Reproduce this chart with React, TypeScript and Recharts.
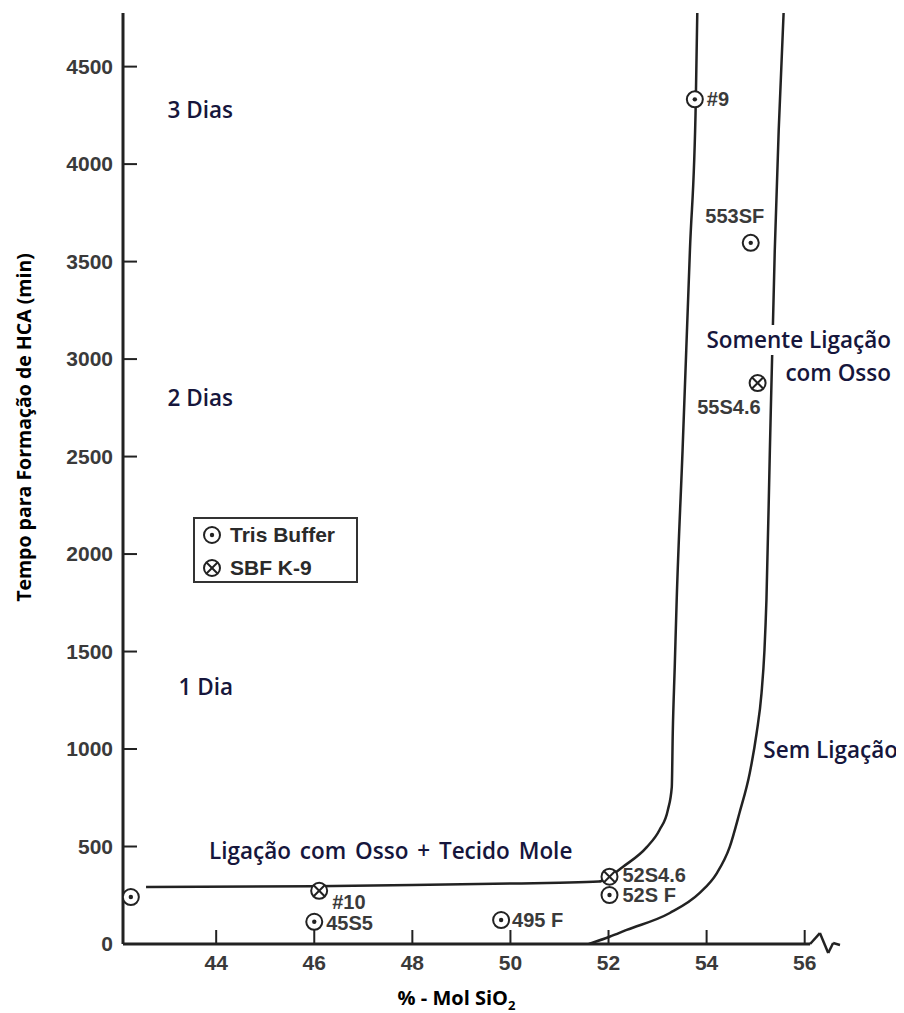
import React from "react";
import { ComposedChart, Line, Scatter, XAxis, YAxis, ReferenceLine, Label } from "recharts";

// ---- data ----
const xTicks = [44, 46, 48, 50, 52, 54, 56];
const yTicks = [0, 500, 1000, 1500, 2000, 2500, 3000, 3500, 4000, 4500];

const trisBuffer = [
  { name: "", x: 42.26, y: 241 },
  { name: "45S5", x: 46.0, y: 114 },
  { name: "495 F", x: 49.81, y: 123 },
  { name: "52S F", x: 52.02, y: 251 },
  { name: "#9", x: 53.76, y: 4332 },
  { name: "553SF", x: 54.9, y: 3596 },
];

const sbfK9 = [
  { name: "#10", x: 46.1, y: 273 },
  { name: "52S4.6", x: 52.02, y: 345 },
  { name: "55S4.6", x: 55.04, y: 2877 },
];

// boundary: bone + soft tissue bonding / bone bonding only
const boundaryA = [
  { x: 42.57, y: 292 },
  { x: 46, y: 296 },
  { x: 48, y: 302 },
  { x: 50, y: 310 },
  { x: 51, y: 314 },
  { x: 51.8, y: 320 },
  { x: 52.02, y: 345 },
  { x: 52.29, y: 395 },
  { x: 52.78, y: 497 },
  { x: 53.04, y: 585 },
  { x: 53.21, y: 687 },
  { x: 53.29, y: 805 },
  { x: 53.31, y: 1082 },
  { x: 53.35, y: 1420 },
  { x: 53.39, y: 1764 },
  { x: 53.51, y: 2533 },
  { x: 53.66, y: 3559 },
  { x: 53.78, y: 4328 },
  { x: 53.81, y: 4775 },
];

// boundary: bone bonding only / no bonding
const boundaryB = [
  { x: 51.6, y: 0 },
  { x: 52.02, y: 37 },
  { x: 52.37, y: 72 },
  { x: 53.25, y: 159 },
  { x: 53.86, y: 262 },
  { x: 54.21, y: 364 },
  { x: 54.47, y: 497 },
  { x: 54.67, y: 672 },
  { x: 54.88, y: 877 },
  { x: 55.02, y: 1082 },
  { x: 55.12, y: 1287 },
  { x: 55.18, y: 1508 },
  { x: 55.22, y: 1764 },
  { x: 55.29, y: 2533 },
  { x: 55.39, y: 3559 },
  { x: 55.47, y: 4174 },
  { x: 55.57, y: 4775 },
];

// broken x axis end
const axisBreak = [
  { x: 56.11, y: 0 },
  { x: 56.31, y: 56 },
  { x: 56.48, y: -46 },
  { x: 56.58, y: 5 },
  { x: 56.72, y: -5 },
];

// ---- styles ----
const INK = "#222";
const TICK_FONT = "'Liberation Sans', Arial, sans-serif";
const TICK_COLOR = "#3a3a3a";
const NOTE_FONT = "'Open Sans', sans-serif";
const NOTE_COLOR = "#16163c";

const labelPos: Record<string, { dx: number; dy: number; anchor: string }> = {
  "45S5": { dx: 12, dy: 1, anchor: "start" },
  "495 F": { dx: 11, dy: 0, anchor: "start" },
  "52S F": { dx: 13, dy: 0, anchor: "start" },
  "52S4.6": { dx: 13, dy: -2, anchor: "start" },
  "#9": { dx: 12, dy: 0, anchor: "start" },
  "553SF": { dx: -16, dy: -27, anchor: "middle" },
  "#10": { dx: 13, dy: 11, anchor: "start" },
  "55S4.6": { dx: 3, dy: 24, anchor: "end" },
};

const PointLabel = ({ cx, cy, name }: any) => {
  const p = labelPos[name];
  if (!p) return null;
  return (
    <text
      x={cx + p.dx}
      y={cy + p.dy}
      dy="0.35em"
      textAnchor={p.anchor}
      fontFamily={TICK_FONT}
      fontWeight={700}
      fontSize={20}
      fill={TICK_COLOR}
    >
      {name}
    </text>
  );
};

const DotCircle = (props: any) => {
  const { cx, cy, payload } = props;
  return (
    <g>
      <circle cx={cx} cy={cy} r={8} fill="#fff" stroke={INK} strokeWidth={2} />
      <circle cx={cx} cy={cy} r={2.2} fill={INK} />
      <PointLabel cx={cx} cy={cy} name={payload.name} />
    </g>
  );
};

const CrossCircle = (props: any) => {
  const { cx, cy, payload } = props;
  const d = 5.5;
  return (
    <g>
      <circle cx={cx} cy={cy} r={8} fill="#fff" stroke={INK} strokeWidth={2} />
      <line x1={cx - d} y1={cy - d} x2={cx + d} y2={cy + d} stroke={INK} strokeWidth={2} />
      <line x1={cx - d} y1={cy + d} x2={cx + d} y2={cy - d} stroke={INK} strokeWidth={2} />
      <PointLabel cx={cx} cy={cy} name={payload.name} />
    </g>
  );
};

const YTick = (props: any) => {
  const { x, y, payload } = props;
  return (
    <g>
      <line x1={x + 10} y1={y} x2={x + 24} y2={y} stroke={INK} strokeWidth={2} />
      <text x={x} y={y} dy="0.35em" textAnchor="end" fontFamily={TICK_FONT} fontWeight={700} fontSize={21} fill={TICK_COLOR}>
        {payload.value}
      </text>
    </g>
  );
};

const XTick = (props: any) => {
  const { x, y, payload } = props;
  return (
    <g>
      <line x1={x} y1={y - 11} x2={x} y2={y - 25} stroke={INK} strokeWidth={2} />
      <text x={x} y={y} dy="0.71em" textAnchor="middle" fontFamily={TICK_FONT} fontWeight={700} fontSize={21} fill={TICK_COLOR}>
        {payload.value}
      </text>
    </g>
  );
};

const YTitle = (props: any) => {
  const vb = props.viewBox;
  const cx = vb.x + 11;
  const cy = vb.y + vb.height / 2 - 51;
  return (
    <text
      x={cx}
      y={cy}
      transform={`rotate(-90, ${cx}, ${cy})`}
      textAnchor="middle"
      dy="0.35em"
      fontFamily={NOTE_FONT}
      fontWeight={700}
      fontSize={19.5}
      fill="#000"
    >
      Tempo para Formação de HCA (min)
    </text>
  );
};

const XTitle = (props: any) => {
  const vb = props.viewBox;
  const cx = vb.x + vb.width / 2 - 25;
  const cy = vb.y + 61;
  return (
    <text x={cx} y={cy} textAnchor="middle" fontFamily={NOTE_FONT} fontWeight={700} fontSize={20} fill="#000">
      % - Mol SiO
      <tspan fontSize={13} dy={5}>2</tspan>
    </text>
  );
};

const note: React.CSSProperties = {
  position: "absolute",
  fontFamily: NOTE_FONT,
  fontWeight: 600,
  fontSize: 22.5,
  color: NOTE_COLOR,
  whiteSpace: "nowrap",
  lineHeight: "30px",
  transform: "translateY(-50%)",
};

const LegendBox = () => (
  <div
    style={{
      position: "absolute",
      left: 185,
      top: 509,
      width: 161,
      height: 62,
      border: "2px solid #333",
      fontFamily: TICK_FONT,
      fontWeight: 700,
      fontSize: 21,
      color: "#2a2a2a",
      background: "#fff",
    }}
  >
    {[
      { label: "Tris Buffer", Shape: DotCircle },
      { label: "SBF K-9", Shape: CrossCircle },
    ].map((it, i) => (
      <div key={it.label} style={{ display: "flex", alignItems: "center", height: 33, marginTop: i === 0 ? -1 : 0 }}>
        <svg width={30} height={22} style={{ marginLeft: 4 }}>
          <it.Shape cx={13} cy={11} payload={{ name: "" }} />
        </svg>
        <span style={{ marginLeft: 1 }}>{it.label}</span>
      </div>
    ))}
  </div>
);

export default function App() {
  return (
    <div style={{ position: "relative", width: 896, height: 1005, background: "#fff" }}>
      <ComposedChart width={896} height={1005} margin={{ top: 5, right: 64, bottom: 29, left: 5 }}>
        <XAxis
          type="number"
          dataKey="x"
          domain={[42.1, 56.72]}
          ticks={xTicks}
          axisLine={false}
          tickLine={false}
          tickSize={0}
          tickMargin={11}
          tick={<XTick />}
          height={40}
          allowDataOverflow
        >
          <Label content={<XTitle />} />
        </XAxis>
        <YAxis
          type="number"
          dataKey="y"
          domain={[0, 4775]}
          ticks={yTicks}
          axisLine={{ stroke: INK, strokeWidth: 3 }}
          tickLine={false}
          tickSize={0}
          tickMargin={10}
          tick={<YTick />}
          width={110}
          allowDataOverflow
        >
          <Label content={<YTitle />} />
        </YAxis>

        <ReferenceLine segment={[{ x: 42.1, y: 0 }, { x: 56.11, y: 0 }]} stroke={INK} strokeWidth={3} ifOverflow="visible" />
        {axisBreak.slice(1).map((p, i) => (
          <ReferenceLine
            key={i}
            segment={[axisBreak[i], p]}
            stroke={INK}
            strokeWidth={2.5}
            ifOverflow="visible"
          />
        ))}

        <Line data={boundaryA} dataKey="y" type="monotone" stroke={INK} strokeWidth={2.5} dot={false} isAnimationActive={false} />
        <Line data={boundaryB} dataKey="y" type="monotone" stroke={INK} strokeWidth={2.5} dot={false} isAnimationActive={false} />

        <Scatter data={trisBuffer} shape={<DotCircle />} isAnimationActive={false} />
        <Scatter data={sbfK9} shape={<CrossCircle />} isAnimationActive={false} />
      </ComposedChart>

      <div style={{ ...note, right: 671, top: 102 }}>3 Dias</div>
      <div style={{ ...note, right: 671, top: 390 }}>2 Dias</div>
      <div style={{ ...note, right: 671, top: 679 }}>1 Dia</div>
      <div style={{ ...note, left: 201, top: 843, wordSpacing: 3 }}>Ligação com Osso + Tecido Mole</div>
      <div style={{ ...note, right: 11, top: 332, background: "#fff", padding: "0 2px" }}>Somente Ligação</div>
      <div style={{ ...note, right: 13, top: 365 }}>com Osso</div>
      <div style={{ ...note, right: 6, top: 742 }}>Sem Ligação</div>

      <LegendBox />
    </div>
  );
}
